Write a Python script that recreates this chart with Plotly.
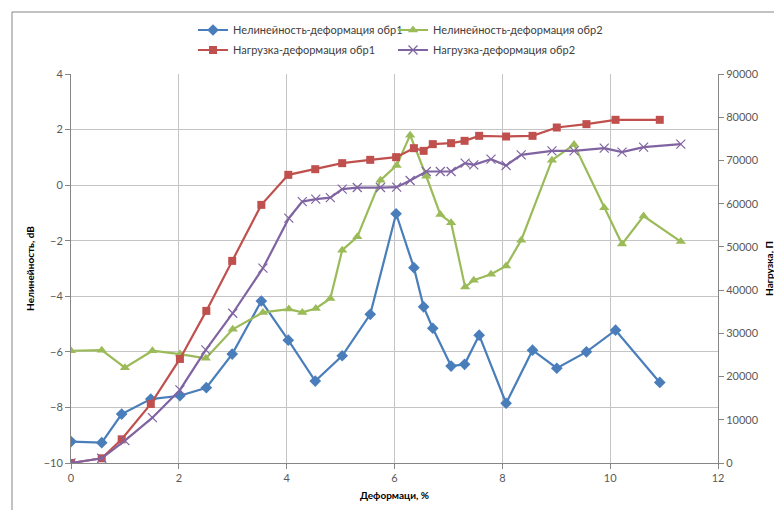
import plotly.graph_objects as go

# Sample 1 (обр1)
x1 = [0, 0.57, 0.94, 1.48, 2.02, 2.51, 2.99, 3.53, 4.03, 4.53, 5.03, 5.55, 6.03,
      6.36, 6.54, 6.71, 7.05, 7.30, 7.57, 8.07, 8.56, 9.01, 9.56, 10.10, 10.92]
nonlin1 = [-9.23, -9.27, -8.24, -7.70, -7.58, -7.29, -6.08, -4.17, -5.58, -7.05, -6.14, -4.65, -1.03,
           -2.97, -4.38, -5.15, -6.51, -6.45, -5.40, -7.85, -5.94, -6.59, -6.00, -5.22, -7.10]
load1 = [0, 1090, 5480, 13660, 24070, 35190, 46760, 59720, 66670, 67980, 69370, 70140, 70760,
         72840, 72220, 73770, 74000, 74540, 75690, 75540, 75690, 77620, 78400, 79400, 79400]

# Sample 2 (обр2)
x2 = [0, 0.57, 1.0, 1.51, 2.02, 2.50, 3.0, 3.56, 4.04, 4.29, 4.54, 4.81, 5.03, 5.31, 5.74, 6.04,
      6.29, 6.59, 6.85, 7.05, 7.31, 7.47, 7.79, 8.07, 8.35, 8.92, 9.33, 9.89, 10.22, 10.62, 11.31]
nonlin2 = [-5.96, -5.94, -6.57, -5.96, -6.08, -6.23, -5.19, -4.58, -4.46, -4.58, -4.44, -4.08, -2.34, -1.86, 0.18, 0.71,
           1.80, 0.32, -1.06, -1.35, -3.67, -3.42, -3.21, -2.91, -1.98, 0.90, 1.46, -0.81, -2.12, -1.11, -2.03]
load2 = [0, 1090, 5160, 10490, 16900, 26160, 34650, 45070, 56640, 60490, 61040, 61410, 63360, 63730, 63730, 63810,
         65350, 67440, 67440, 67440, 69370, 68980, 70300, 68820, 71300, 72220, 72220, 72840, 71920, 73080, 73770]

names = ["Нелинейность-деформация обр1", "Нелинейность-деформация обр2",
         "Нагрузка-деформация обр1", "Нагрузка-деформация обр2"]

BLUE, GREEN, RED, PURPLE = "#4A7EBB", "#9BBB59", "#C0504D", "#8064A2"
FONT = "Lato, Liberation Sans, sans-serif"

# page has an 8px body margin, so the figure is drawn 8px smaller
W, H = 774, 502

fig = go.Figure()
fig.add_trace(go.Scatter(x=x1, y=nonlin1, name=names[0], mode="lines+markers",
                         line=dict(color=BLUE, width=2.2),
                         marker=dict(symbol="diamond", size=9, color=BLUE),
                         legend="legend"))
fig.add_trace(go.Scatter(x=x2, y=nonlin2, name=names[1], mode="lines+markers",
                         line=dict(color=GREEN, width=2.2),
                         marker=dict(symbol="triangle-up", size=9, color=GREEN),
                         legend="legend2"))
fig.add_trace(go.Scatter(x=x1, y=load1, name=names[2], mode="lines+markers", yaxis="y2",
                         line=dict(color=RED, width=2.2),
                         marker=dict(symbol="square", size=8, color=RED),
                         legend="legend3"))
fig.add_trace(go.Scatter(x=x2, y=load2, name=names[3], mode="lines+markers", yaxis="y2",
                         line=dict(color=PURPLE, width=2.2),
                         marker=dict(symbol="x-thin-open", size=9, color=PURPLE,
                                     line=dict(color=PURPLE, width=1.2)),
                         legend="legend4"))

axis_common = dict(showline=True, linecolor="#868686", linewidth=1, ticks="outside",
                   tickcolor="#868686", ticklen=5, zeroline=False, automargin=False,
                   tickfont=dict(family=FONT, size=11, color="#595959"))

legend_common = dict(orientation="h", xanchor="left", yanchor="middle", xref="container", yref="container",
                     bgcolor="rgba(0,0,0,0)", font=dict(family=FONT, size=11, color="#404040"), itemwidth=30)

col1, col2 = 185 / W, 385 / W
row1, row2 = 1 - 22 / H, 1 - 42 / H

fig.update_layout(
    width=W, height=H,
    margin=dict(l=63, r=64, t=66, b=47, autoexpand=False),
    paper_bgcolor="white", plot_bgcolor="white",
    font=dict(family=FONT, size=11, color="#404040"),
    xaxis=dict(range=[0, 12], dtick=2, tick0=0, showgrid=True, gridcolor="#C4C4C4",
               title=dict(text="<b>Деформаци, %</b>", font=dict(family=FONT, size=10, color="black"), standoff=8),
               **axis_common),
    yaxis=dict(range=[-10, 4], dtick=2, tick0=-10, showgrid=True, gridcolor="#C4C4C4",
               title=dict(text="<b>Нелинейность, dB</b>", font=dict(family=FONT, size=10, color="black"), standoff=7),
               **axis_common),
    yaxis2=dict(range=[0, 90000], dtick=10000, tick0=0, overlaying="y", side="right", showgrid=False,
                tickformat="d", exponentformat="none",
                title=dict(text="<b>Нагрузка, П</b>", font=dict(family=FONT, size=10, color="black"), standoff=8),
                **axis_common),
    legend=dict(x=col1, y=row1, **legend_common),
    legend2=dict(x=col2, y=row1, **legend_common),
    legend3=dict(x=col1, y=row2, **legend_common),
    legend4=dict(x=col2, y=row2, **legend_common),
    shapes=[dict(type="rect", xref="paper", yref="paper", x0=-0.0912, y0=-0.3, x1=1.3, y1=1.1594,
                 line=dict(color="#868686", width=1), fillcolor="rgba(0,0,0,0)", layer="below")],
    showlegend=True,
)

fig.write_html("out.html")
